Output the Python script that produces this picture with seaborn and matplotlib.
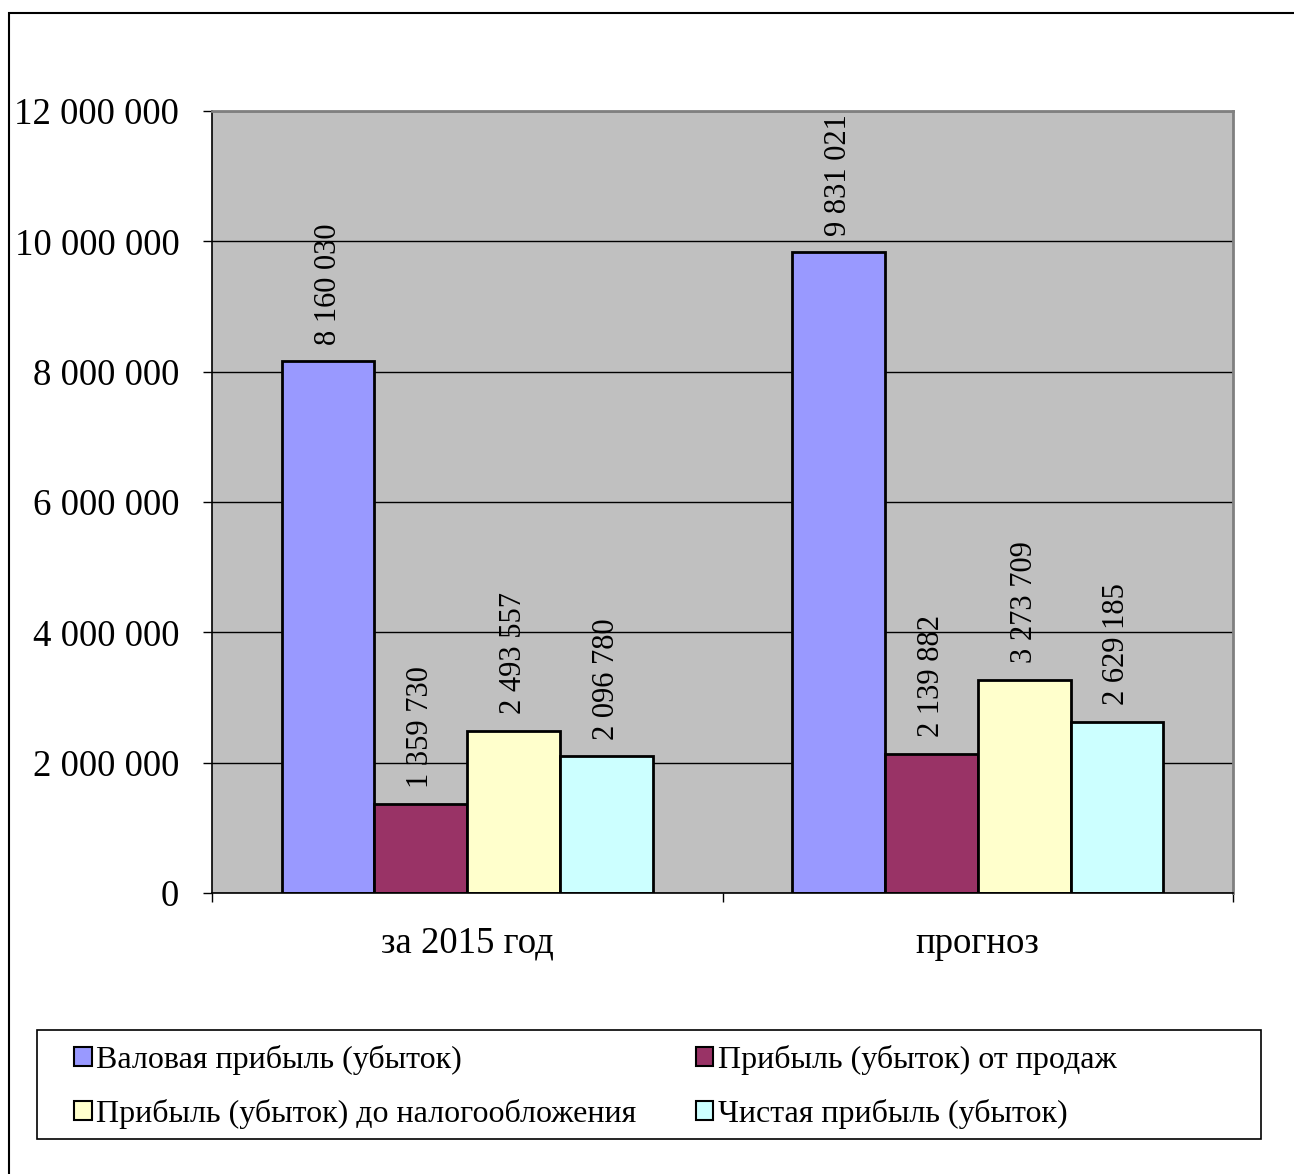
import matplotlib
matplotlib.use("Agg")
import matplotlib.pyplot as plt
from matplotlib.patches import Rectangle
from matplotlib.ticker import FuncFormatter, FixedLocator
import seaborn as sns
import pandas as pd

categories = ["за 2015 год", "прогноз"]
series = [
    "Валовая прибыль (убыток)",
    "Прибыль (убыток) от продаж",
    "Прибыль (убыток) до налогообложения",
    "Чистая прибыль (убыток)",
]
values_2015 = [8160030, 1359730, 2493557, 2096780]
values_forecast = [9831021, 2139882, 3273709, 2629185]
colors = ["#9999FF", "#993366", "#FFFFCC", "#CCFFFF"]

rows = []
for s, a, b in zip(series, values_2015, values_forecast):
    rows.append({"period": categories[0], "series": s, "value": a})
    rows.append({"period": categories[1], "series": s, "value": b})
df = pd.DataFrame(rows)

sns.set_theme(style="white")
plt.rcParams["font.family"] = ["Liberation Serif", "DejaVu Serif"]
plt.rcParams["text.color"] = "black"
plt.rcParams["xtick.labelcolor"] = "black"
plt.rcParams["ytick.labelcolor"] = "black"

W, H = 1294, 1174
fig = plt.figure(figsize=(W / 100, H / 100), dpi=100)
ax = fig.add_axes([212 / W, 1 - 893 / H, (1233 - 212) / W, (893 - 111) / H])

sns.barplot(
    data=df, x="period", y="value", hue="series", order=categories,
    hue_order=series, palette=colors, width=0.727, gap=0,
    edgecolor="black", linewidth=2, saturation=1, ax=ax, legend=False,
)

ax.set_facecolor("#C0C0C0")
ax.set_xlim(-0.5, 1.5)
ax.set_ylim(0, 12000000)
ax.set_yticks(range(0, 12000001, 2000000))
ax.yaxis.grid(True, color="black", linewidth=1)
ax.set_axisbelow(True)
ax.yaxis.set_major_formatter(FuncFormatter(lambda v, p: f"{int(v):,}".replace(",", " ")))
ax.tick_params(axis="y", labelsize=26.5, length=6.5, width=1, color="black",
               labelcolor="black", direction="out", left=True, pad=17)
ax.tick_params(axis="x", which="major", labelsize=26.5, length=0, pad=24, labelcolor="black")
ax.xaxis.set_minor_locator(FixedLocator([-0.5, 0.5, 1.5]))
ax.tick_params(axis="x", which="minor", length=6.5, width=1, color="black", bottom=True)
ax.set_xlabel("")
ax.set_ylabel("")

for side in ["top", "right"]:
    ax.spines[side].set_color("#808080")
    ax.spines[side].set_linewidth(2)
for side in ["left", "bottom"]:
    ax.spines[side].set_color("black")
    ax.spines[side].set_linewidth(1.2)

for cont in ax.containers:
    labels = [f"{int(v):,}".replace(",", " ") for v in cont.datavalues]
    ax.bar_label(cont, labels=labels, rotation=90, padding=12, fontsize=22, color="black")

# legend filled row by row: two entries per row
order = [0, 2, 1, 3]
handles = [Rectangle((0, 0), 1, 1, facecolor=colors[i], edgecolor="black", linewidth=1.5) for i in order]
labels = [series[i] for i in order]
leg = fig.legend(
    handles, labels, ncol=2, loc="upper left",
    bbox_to_anchor=(74 / W, 1 - 1045 / H),
    fontsize=23, frameon=False,
    handlelength=0.55, handleheight=0.55, handletextpad=0.15, borderpad=0,
    labelspacing=0.75, columnspacing=1.85, borderaxespad=0,
)

# legend box
fig.patches.append(Rectangle((37 / W, 1 - 1139 / H), (1261 - 37) / W, (1139 - 1030) / H,
                             transform=fig.transFigure, fill=False,
                             edgecolor="black", linewidth=1.2))

# outer chart border
fig.patches.append(Rectangle((9 / W, -0.01), 1.02, 1 - 13 / H + 0.01, transform=fig.transFigure,
                             fill=False, edgecolor="black", linewidth=1.5))

fig.savefig("out.png", dpi=100, facecolor="white")
